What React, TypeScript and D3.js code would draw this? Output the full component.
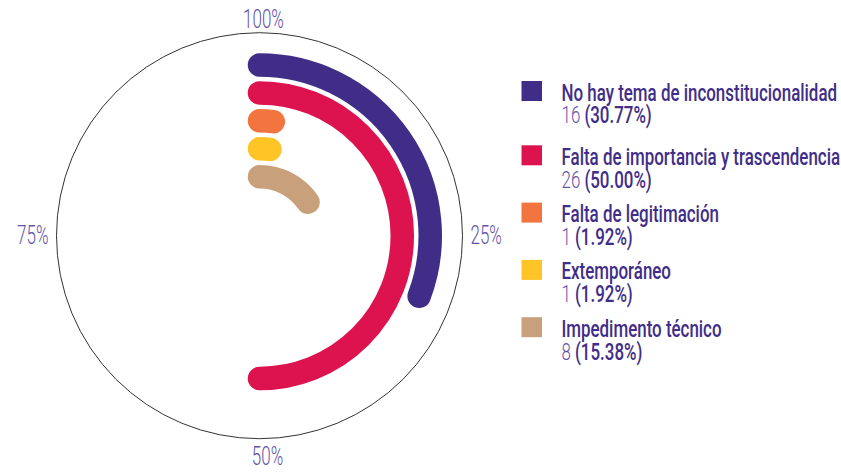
import React, { useEffect, useRef } from "react";
import * as d3 from "d3";

const categories = [
  "No hay tema de inconstitucionalidad",
  "Falta de importancia y trascendencia",
  "Falta de legitimación",
  "Extemporáneo",
  "Impedimento técnico",
];
const counts = [16, 26, 1, 1, 8];
const percents = ["30.77%", "50.00%", "1.92%", "1.92%", "15.38%"];
const colors = ["#3f2d88", "#dc134f", "#f2743f", "#ffc425", "#c9a07c"];
const tickLabels = ["100%", "25%", "50%", "75%"];
const tickShares = [0, 0.25, 0.5, 0.75];

const FONT = "Roboto, 'Noto Sans', sans-serif";
const SX = 0.68; // horizontal squeeze to mimic a condensed face
const SX_LEGEND = 0.72;

const RadialBars = () => {
  const svgRef = useRef<SVGSVGElement | null>(null);

  useEffect(() => {
    document.body.style.margin = "0";
    const width = 841;
    const height = 476;
    const cx = 259.5;
    const cy = 235.7;
    const outerR = 203;

    const svg = d3.select(svgRef.current).attr("width", width).attr("height", height);
    svg.selectAll("*").remove();

    const total = d3.sum(counts);
    const angle = d3.scaleLinear().domain([0, total]).range([0, 2 * Math.PI]);
    const radius = d3
      .scaleBand<number>()
      .domain(d3.range(categories.length))
      .range([184.7, 45])
      .paddingInner(0.16)
      .paddingOuter(0.08);

    const g = svg.append("g").attr("transform", `translate(${cx},${cy})`);

    g.append("circle")
      .attr("r", outerR)
      .attr("fill", "none")
      .attr("stroke", "#333")
      .attr("stroke-width", 1);

    const barW = 23.5;
    const arcPath = (r: number, a: number) => {
      const p = d3.path();
      p.moveTo(0, -r);
      p.arc(0, 0, r, -Math.PI / 2, a - Math.PI / 2, false);
      return p.toString();
    };

    counts.forEach((c, i) => {
      const r = (radius(i) as number) + radius.bandwidth() / 2;
      g.append("path")
        .attr("d", arcPath(r, angle(c)))
        .attr("fill", "none")
        .attr("stroke", colors[i])
        .attr("stroke-width", barW)
        .attr("stroke-linecap", "round");
    });

    // percentage ticks around the circle
    tickShares.forEach((s, i) => {
      const a = angle(s * total);
      const gap = 8;
      const x = (outerR + gap) * Math.sin(a);
      const y = -(outerR + gap) * Math.cos(a);
      let anchor = "middle";
      let baseline = "central";
      let dx = 0;
      let dy = 0;
      if (i === 0) { baseline = "auto"; dx = 4; dy = 3; }
      if (i === 1) { anchor = "start"; }
      if (i === 2) { baseline = "hanging"; dx = 8; }
      if (i === 3) { anchor = "end"; }
      g.append("g")
        .attr("transform", `translate(${x + dx},${y + dy}) scale(${SX},1)`)
        .append("text")
        .attr("text-anchor", anchor)
        .attr("dominant-baseline", baseline)
        .style("font-family", FONT)
        .style("font-size", "25px")
        .style("font-weight", 300)
        .style("fill", "#6453a8")
        .text(tickLabels[i]);
    });

    // legend
    const legend = svg.append("g");
    categories.forEach((name, i) => {
      const y0 = 81 + i * 57.3 + (i > 0 ? 7 : 0);
      const item = legend.append("g").attr("transform", `translate(521.5,${y0})`);
      item.append("rect").attr("width", 20.5).attr("height", 20).attr("fill", colors[i]);
      const tg = item.append("g").attr("transform", `translate(40,0) scale(${SX_LEGEND},1)`);
      tg.append("text")
        .attr("y", 19.5)
        .style("font-family", FONT)
        .style("font-size", "23.5px")
        .style("font-weight", 500)
        .style("fill", "#3f2d88")
        .text(name);
      const t = tg.append("text")
        .attr("y", 42.5)
        .style("font-family", FONT)
        .style("font-size", "23.5px")
        .style("font-weight", 500)
        .style("fill", "#3f2d88");
      t.append("tspan").style("fill", "#6453a8").style("font-weight", 300).text(`${counts[i]} `);
      t.append("tspan").text(`(${percents[i]})`);
    });
  }, []);

  return <svg ref={svgRef} style={{ display: "block" }}></svg>;
};

export default function App() {
  return <RadialBars />;
}
